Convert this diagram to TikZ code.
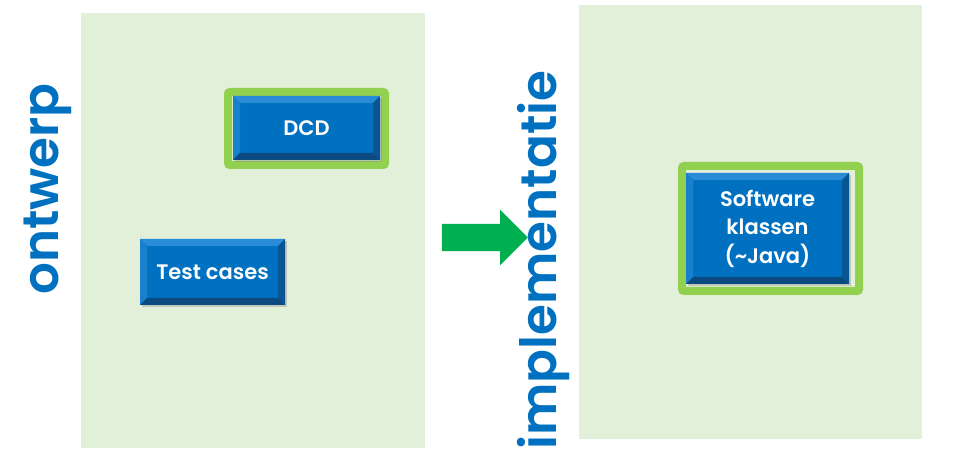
\documentclass[tikz,border=0pt]{standalone}
\usepackage{fontspec}
\setmainfont{Poppins}[BoldFont={Poppins SemiBold}]
\usetikzlibrary{calc,shapes.arrows,shadows}
\definecolor{vlakgroen}{HTML}{E2F0D9}
\definecolor{kadergroen}{HTML}{92D050}
\definecolor{pijlgroen}{HTML}{00B050}
\definecolor{knopblauw}{HTML}{0070C0}
\definecolor{randlicht}{HTML}{2A8BD6}
\definecolor{randdonker}{HTML}{0A4A7E}
\definecolor{fasetekst}{HTML}{0070C0}
\newcommand{\bv}{7pt}
\begin{document}
\begin{tikzpicture}[x=1pt,y=-1pt,
    vlak/.style={fill=vlakgroen, inner sep=0pt, minimum width=344pt, minimum height=435pt},
    kader/.style={draw=kadergroen, line width=8pt, rounded corners=2pt, inner sep=0pt},
    knop/.style={fill=knopblauw, text=white, inner sep=0pt,
        font=\fontsize{21}{28.5}\selectfont\bfseries,
        drop shadow={opacity=0.35, shadow xshift=2pt, shadow yshift=-2pt},
        path picture={
            \def\pb{path picture bounding box}
            \fill[randlicht] (\pb.north west) -- (\pb.north east) -- ($(\pb.north east)+(-\bv,-\bv)$) -- ($(\pb.north west)+(\bv,-\bv)$) -- cycle;
            \fill[randlicht!60!knopblauw] (\pb.north west) -- ($(\pb.north west)+(\bv,-\bv)$) -- ($(\pb.south west)+(\bv,\bv)$) -- (\pb.south west) -- cycle;
            \fill[randdonker] (\pb.south west) -- (\pb.south east) -- ($(\pb.south east)+(-\bv,\bv)$) -- ($(\pb.south west)+(\bv,\bv)$) -- cycle;
            \fill[randdonker!70!knopblauw] (\pb.north east) -- ($(\pb.north east)+(-\bv,-\bv)$) -- ($(\pb.south east)+(-\bv,\bv)$) -- (\pb.south east) -- cycle;
        }},
    fase/.style={rotate=90, text=fasetekst, inner sep=0pt, font=\fontsize{50}{60}\selectfont\bfseries},
    pijl/.style={single arrow, fill=pijlgroen, inner sep=13.5pt, minimum width=55pt, minimum height=86pt,
        single arrow head extend=14pt, single arrow tip angle=90}]
    \useasboundingbox (0,0) rectangle (959,470);

    \node[vlak] (ontwerpvlak) at (253,230.5) {};
    \node[vlak, minimum width=343pt, minimum height=434pt] (implvlak) at (750.5,222) {};

    \node[kader, minimum width=157pt, minimum height=73pt] (dcdkader) at (306.5,128.5) {};
    \node[kader, minimum width=177pt, minimum height=125pt] (swkader) at (770.5,228.5) {};

    \node[knop, minimum width=147pt, minimum height=64pt] (dcd) at (306.5,128) {DCD};
    \node[knop, minimum width=145pt, minimum height=66pt] (testcases) at (212.5,272) {Test cases};
    \node[knop, minimum width=163pt, minimum height=111pt, align=center] (software) at (767.5,228.5)
        {Software\\klassen\\(\textasciitilde Java)};

    \node[fase] (ontwerp) at (47.5,189) {ontwerp};
    \node[fase] (implementatie) at (543,260) {implementatie};

    \node[pijl] (overgang) at (478,237.5) {};
\end{tikzpicture}
\end{document}
